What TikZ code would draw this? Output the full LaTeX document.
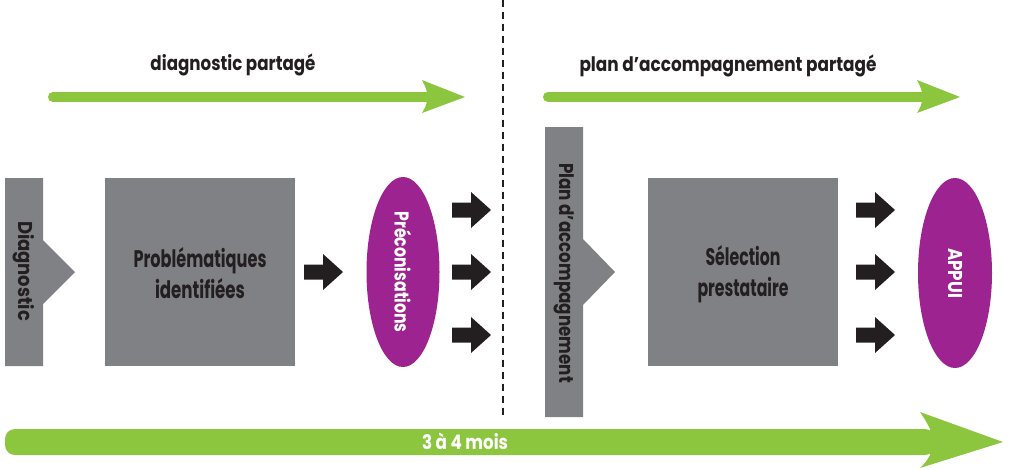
\documentclass[tikz,border=0pt]{standalone}
\usepackage{fontspec}
\setmainfont{Poppins}
\usetikzlibrary{shapes.geometric}
\definecolor{boxgray}{HTML}{808184}
\definecolor{purp}{HTML}{9D2391}
\definecolor{grn}{HTML}{8CC63F}
\definecolor{ink}{HTML}{231F20}
\newcommand{\fw}[2]{\resizebox{#1}{\height}{#2}}
\begin{document}
\begin{tikzpicture}[x=1pt,y=-1pt,
  toplbl/.style={inner sep=0, text=ink, font=\fontsize{20}{22}\selectfont\bfseries},
  boxlbl/.style={inner sep=0, text=ink, align=center, font=\fontsize{24}{31}\selectfont\bfseries},
  vlbl/.style={inner sep=0, rotate=-90, font=\fontsize{20}{22}\selectfont\bfseries},
  oval/.style={ellipse, fill=purp, minimum width=73pt, minimum height=190pt, inner sep=0},
  blk/.pic={\fill[ink] (0,-7.5) -- (19,-7.5) -- (19,-18) -- (39,0) -- (19,18) -- (19,7.5) -- (0,7.5) -- cycle;},
]
\useasboundingbox (0,0) rectangle (1009,469);
% divider
\draw[ink, line width=2pt, dash pattern=on 7pt off 5pt] (503,0) -- (503,415);
% top arrows
\draw[grn, line width=10pt, line cap=round] (53,97) -- (428,97);
\fill[grn] (422,80) -- (465,97) -- (422,113) .. controls (426,106) .. (428,97) .. controls (426,88) .. cycle;
\node[toplbl] (tl1) at (233,65) {\fw{165pt}{diagnostic partagé}};
\draw[grn, line width=10pt, line cap=round] (548,97) -- (923,97);
\fill[grn] (917,80) -- (960,97) -- (917,113) .. controls (921,106) .. (923,97) .. controls (921,88) .. cycle;
\node[toplbl] (tl2) at (728,66) {\fw{297pt}{plan d’accompagnement partagé}};
% left tab: Diagnostic
\fill[boxgray] (5,178) -- (43,178) -- (43,240) -- (75,272) -- (43,304) -- (43,366) -- (5,366) -- cycle;
\node[vlbl, text=ink] (diag) at (24,271) {\fw{100pt}{Diagnostic}};
% Problematiques
\node[fill=boxgray, minimum width=190pt, minimum height=188pt, inner sep=0] (prob) at (200,272) {};
\node[boxlbl] (probt) at (200,273) {\fw{133pt}{Problématiques}\\\fw{90pt}{identifiées}};
\pic at (304,272) {blk};
% Preconisations
\node[oval] (prec) at (403,272) {};
\node[vlbl, text=white] (prect) at (403,272) {\fw{121pt}{Préconisations}};
\pic at (452,210) {blk};
\pic at (452,272) {blk};
\pic at (452,335) {blk};
% Plan d'accompagnement tab
\fill[boxgray] (545,127) -- (583,127) -- (583,239) -- (615,272) -- (583,305) -- (583,417) -- (545,417) -- cycle;
\node[vlbl, text=ink] (plan) at (564,273) {\fw{220pt}{Plan d’accompagnement}};
% Selection prestataire
\node[fill=boxgray, minimum width=190pt, minimum height=188pt, inner sep=0] (sel) at (743,272) {};
\node[boxlbl] (selt) at (743,274) {\fw{75pt}{Sélection}\\\fw{91pt}{prestataire}};
\pic at (856,210) {blk};
\pic at (856,272) {blk};
\pic at (856,335) {blk};
% APPUI
\node[oval, minimum width=74pt] (appui) at (955,273) {};
\node[vlbl, text=white] (appuit) at (955,273) {\fw{50pt}{APPUI}};
% bottom arrow
\fill[grn, rounded corners=10pt] (5,429) rectangle (935,455);
\fill[grn] (920,412) -- (1003,442) -- (920,468) .. controls (926,462) .. (930,455) -- (930,429) .. controls (926,421) .. cycle;
\node[inner sep=0, text=white, font=\fontsize{20}{22}\selectfont\bfseries] (dur) at (465,441) {\fw{86pt}{3 à 4 mois}};
\end{tikzpicture}
\end{document}
